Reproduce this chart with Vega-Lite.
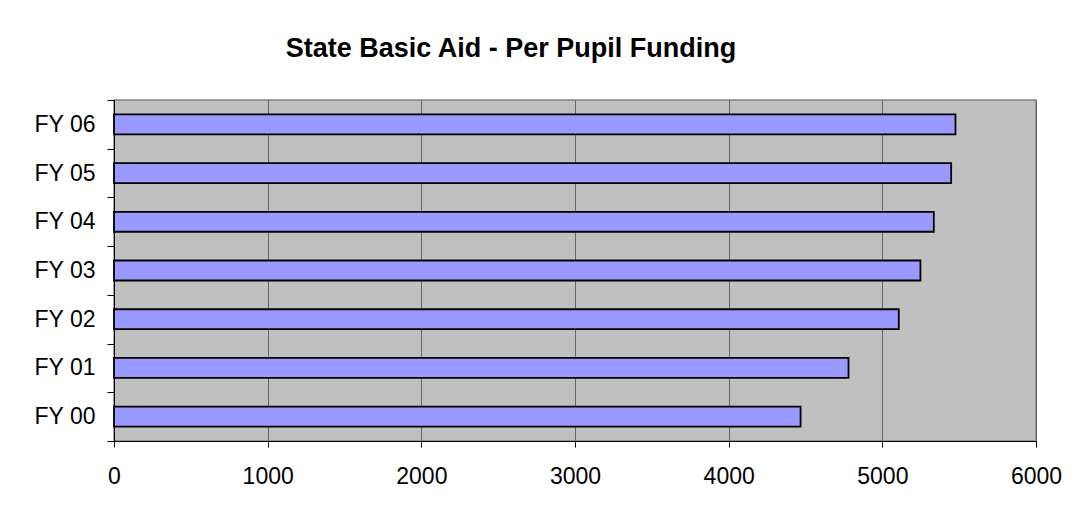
{
  "$schema": "https://vega.github.io/schema/vega-lite/v6.json",
  "autosize": {"type": "none"},
  "width": 922,
  "height": 341,
  "padding": {"left": 114, "top": 100, "right": 42, "bottom": 79},
  "background": "white",
  "title": {
    "text": "State Basic Aid - Per Pupil Funding",
    "font": "Liberation Sans",
    "fontSize": 27,
    "fontWeight": "bold",
    "color": "black",
    "anchor": "middle",
    "frame": "group",
    "baseline": "alphabetic",
    "offset": 5,
    "dx": -64
  },
  "data": {
    "values": [
      {"year": "FY 00", "funding": 4468},
      {"year": "FY 01", "funding": 4780},
      {"year": "FY 02", "funding": 5107},
      {"year": "FY 03", "funding": 5248},
      {"year": "FY 04", "funding": 5335},
      {"year": "FY 05", "funding": 5448},
      {"year": "FY 06", "funding": 5476}
    ]
  },
  "mark": {"type": "bar", "fill": "#9999FF", "stroke": "black", "strokeWidth": 1.8, "height": {"band": 0.41}},
  "encoding": {
    "y": {
      "field": "year",
      "type": "nominal",
      "sort": ["FY 06", "FY 05", "FY 04", "FY 03", "FY 02", "FY 01", "FY 00"],
      "scale": {"paddingInner": 0, "paddingOuter": 0},
      "axis": {
        "title": null,
        "tickBand": "extent",
        "grid": false,
        "domainColor": "black",
        "domainWidth": 1,
        "tickColor": "black",
        "tickSize": 7,
        "labelPadding": 12,
        "labelFont": "Liberation Sans",
        "labelFontSize": 23,
        "labelColor": "black"
      }
    },
    "x": {
      "field": "funding",
      "type": "quantitative",
      "scale": {"domain": [0, 6000], "nice": false},
      "axis": {
        "title": null,
        "values": [0, 1000, 2000, 3000, 4000, 5000, 6000],
        "format": "d",
        "grid": true,
        "gridColor": "#666666",
        "gridWidth": 1,
        "domainColor": "black",
        "domainWidth": 1,
        "tickColor": "black",
        "tickSize": 6,
        "labelPadding": 18,
        "labelFlush": false,
        "labelFont": "Liberation Sans",
        "labelFontSize": 23,
        "labelColor": "black",
        "labelBaseline": "top"
      }
    }
  },
  "config": {
    "view": {"fill": "#C0C0C0", "stroke": "#808080", "strokeWidth": 1.5}
  }
}
